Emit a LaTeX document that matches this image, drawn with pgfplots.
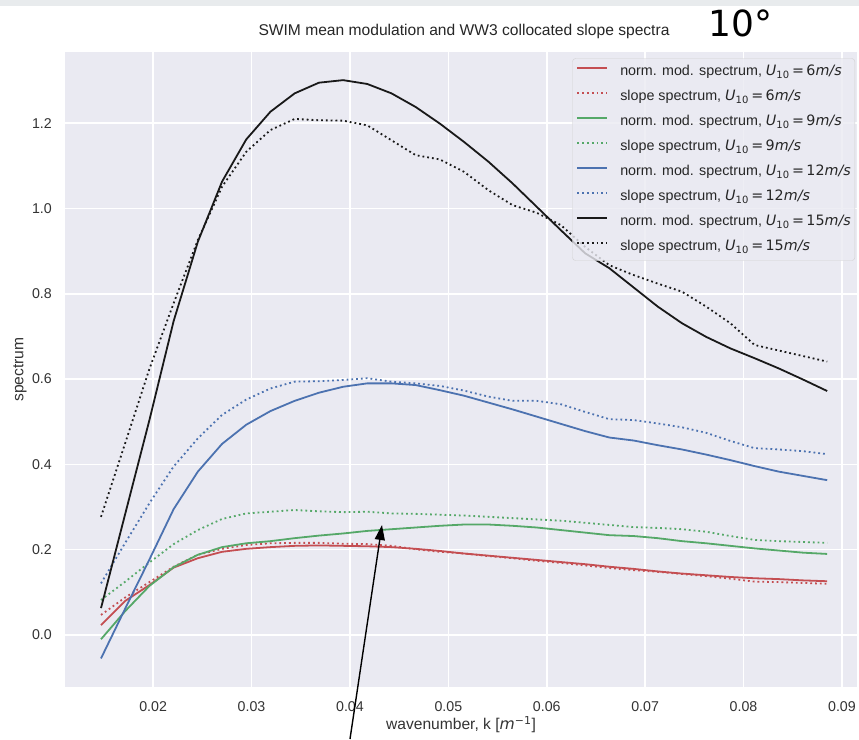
\documentclass[border=0pt]{standalone}
\usepackage{fontspec}
\setmainfont{Liberation Sans}
\newfontfamily\djv{DejaVu Sans}
\usepackage{pgfplots}
\usepackage{pgfplotstable}
\pgfplotsset{compat=1.18}
\usetikzlibrary{arrows.meta}
\definecolor{bgc}{HTML}{EAEAF2}
\definecolor{cr}{HTML}{C44E52}
\definecolor{cg}{HTML}{55A868}
\definecolor{cb}{HTML}{4C72B0}
\definecolor{tickc}{HTML}{333333}
\definecolor{strip}{HTML}{E8EBED}
\newcommand{\U}[1]{{\djv\itshape U}\textsubscript{\djv 10}\,{\djv =}\,{\djv #1}{\djv\itshape m/s}}
\pgfplotstableread{
k r rs g gs b bs kk ks
0.01470 0.023 0.047 -0.010 0.082 -0.055 0.121 0.063 0.277
0.01716 0.080 0.088 0.056 0.125 0.062 0.216 0.284 0.450
0.01962 0.117 0.124 0.115 0.170 0.177 0.309 0.504 0.624
0.02208 0.158 0.160 0.159 0.213 0.295 0.395 0.736 0.778
0.02454 0.180 0.188 0.188 0.246 0.383 0.461 0.922 0.926
0.02700 0.195 0.202 0.206 0.272 0.448 0.516 1.063 1.051
0.02946 0.202 0.211 0.215 0.285 0.493 0.552 1.162 1.133
0.03192 0.206 0.215 0.220 0.289 0.525 0.578 1.227 1.184
0.03438 0.209 0.216 0.227 0.293 0.549 0.594 1.270 1.210
0.03684 0.210 0.216 0.233 0.290 0.568 0.595 1.295 1.207
0.03930 0.209 0.214 0.238 0.288 0.582 0.598 1.301 1.206
0.04176 0.208 0.213 0.244 0.289 0.590 0.602 1.292 1.195
0.04422 0.206 0.209 0.248 0.285 0.590 0.594 1.270 1.160
0.04668 0.202 0.201 0.252 0.284 0.586 0.590 1.238 1.125
0.04914 0.197 0.195 0.256 0.282 0.574 0.584 1.199 1.115
0.05160 0.191 0.191 0.259 0.280 0.561 0.573 1.156 1.086
0.05406 0.186 0.185 0.259 0.277 0.545 0.559 1.110 1.043
0.05652 0.181 0.180 0.256 0.274 0.529 0.549 1.059 1.008
0.05898 0.176 0.174 0.252 0.271 0.512 0.549 1.004 0.990
0.06144 0.171 0.169 0.246 0.268 0.495 0.541 0.949 0.961
0.06390 0.166 0.163 0.240 0.263 0.478 0.523 0.895 0.910
0.06636 0.160 0.157 0.234 0.258 0.463 0.506 0.860 0.867
0.06882 0.155 0.152 0.232 0.253 0.456 0.504 0.815 0.844
0.07128 0.149 0.148 0.227 0.251 0.445 0.496 0.770 0.824
0.07374 0.144 0.143 0.220 0.248 0.435 0.487 0.731 0.805
0.07620 0.140 0.138 0.215 0.242 0.423 0.474 0.699 0.770
0.07866 0.136 0.132 0.209 0.232 0.410 0.455 0.672 0.731
0.08112 0.133 0.125 0.203 0.223 0.396 0.438 0.649 0.680
0.08358 0.131 0.124 0.198 0.220 0.383 0.435 0.625 0.667
0.08604 0.128 0.122 0.193 0.218 0.373 0.431 0.599 0.654
0.08850 0.126 0.120 0.190 0.216 0.363 0.424 0.572 0.641
}\data
\begin{document}
\begin{tikzpicture}
\fill[strip] (0pt,733pt) rectangle (859pt,739pt);
\begin{axis}[
  at={(65pt,52pt)}, anchor=south west,
  scale only axis, width=792pt, height=635pt,
  xmin=0.01104, xmax=0.09153, ymin=-0.122, ymax=1.367,
  scaled x ticks=false, scaled y ticks=false,
  axis background/.style={fill=bgc},
  axis line style={draw=none},
  major tick style={draw=none},
  grid=major,
  grid style={white, line width=1.6pt},
  xtick={0.02,0.03,0.04,0.05,0.06,0.07,0.08,0.09},
  ytick={0,0.2,0.4,0.6,0.8,1.0,1.2},
  /pgf/number format/assume math mode=true,
  xticklabel style={/pgf/number format/fixed,/pgf/number format/fixed zerofill,/pgf/number format/precision=2,
    font=\fontsize{14.2}{16}\selectfont, text=tickc, inner sep=0pt, anchor=north, yshift=-14pt},
  yticklabel style={/pgf/number format/fixed,/pgf/number format/fixed zerofill,/pgf/number format/precision=1,
    font=\fontsize{14.2}{16}\selectfont, text=tickc, inner sep=0pt, anchor=east, xshift=-13pt},
  title={SWIM mean modulation and WW3 collocated slope spectra},
  title style={font=\fontsize{15.6}{18}\selectfont, text=black!85, inner sep=0pt, anchor=base, yshift=0pt, at={(axis description cs:0.5038,1.0165)}},
  xlabel={wavenumber, k [{\djv\itshape m}\textsuperscript{\djv −1}]},
  xlabel style={font=\fontsize{15.6}{18}\selectfont, text=tickc, inner sep=0pt, anchor=base, at={(axis description cs:0.5,-0.0677)}},
  ylabel={spectrum},
  ylabel style={font=\fontsize{15.6}{18}\selectfont, text=tickc, inner sep=0pt, anchor=center, at={(axis description cs:-0.0568,0.5)}},
  legend style={at={(rel axis cs:0.9975,0.990)}, anchor=north east,
    fill=bgc, fill opacity=0.8, text opacity=1, draw=black!18, draw opacity=1,
    rounded corners=3pt, inner xsep=4pt, inner ysep=6pt,
    font=\fontsize{14.3}{16}\selectfont, text=black!85,
    nodes={inner sep=0pt, text height=11pt, text depth=4pt},
    row sep=10pt},
  legend cell align=left,
  legend image code/.code={\draw[#1] (0pt,4pt) -- (30pt,4pt);},
  every axis legend/.append style={column sep=12pt},
  every axis plot/.append style={line width=1.8pt},
  dots/.style={dash pattern=on 1.8pt off 3pt},
]
\addplot[cr, no marks] table[x=k,y=r]{\data};
\addlegendentry{norm. mod. spectrum, \U{6}}
\addplot[cr, no marks, dots] table[x=k,y=rs]{\data};
\addlegendentry{slope spectrum, \U{6}}
\addplot[cg, no marks] table[x=k,y=g]{\data};
\addlegendentry{norm. mod. spectrum, \U{9}}
\addplot[cg, no marks, dots] table[x=k,y=gs]{\data};
\addlegendentry{slope spectrum, \U{9}}
\addplot[cb, no marks] table[x=k,y=b]{\data};
\addlegendentry{norm. mod. spectrum, \U{12}}
\addplot[cb, no marks, dots] table[x=k,y=bs]{\data};
\addlegendentry{slope spectrum, \U{12}}
\addplot[black!90, no marks] table[x=k,y=kk]{\data};
\addlegendentry{norm. mod. spectrum, \U{15}}
\addplot[black!90, no marks, dots] table[x=k,y=ks]{\data};
\addlegendentry{slope spectrum, \U{15}}
\end{axis}
\draw[-{Triangle[length=15pt,width=10pt]}, line width=1.4pt, black] (350pt,0pt) -- (382pt,214pt);
\node[anchor=base west, inner sep=0pt] at (708pt,702pt) {\fontsize{36}{40}\selectfont\djv 10°};
\pgfresetboundingbox
\path[use as bounding box] (0pt,0pt) rectangle (859pt,739pt);
\end{tikzpicture}
\end{document}
